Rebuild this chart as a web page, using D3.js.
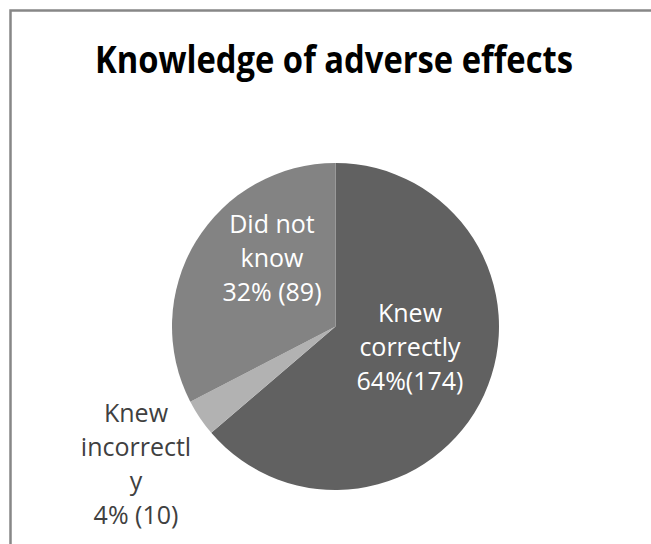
<!DOCTYPE html>
<html>
<head>
<meta charset="utf-8">
<script src="https://cdn.jsdelivr.net/npm/d3@7"></script>
<style>
  html, body { margin: 0; padding: 0; background: #fff; overflow: hidden; }
  svg { display: block; }
</style>
</head>
<body>
<svg id="chart" width="651" height="544"></svg>
<script>
// ---- data ----
const title = "Knowledge of adverse effects";
const categories = ["Knew correctly", "Knew incorrectly", "Did not know"];
const counts = [174, 10, 89];
const labelLines = [
  ["Knew", "correctly", "64%(174)"],
  ["Knew", "incorrectl", "y", "4% (10)"],
  ["Did not", "know", "32% (89)"]
];
const sliceColors = ["#616161", "#b2b2b2", "#838383"];
const labelColors = ["#ffffff", "#404040", "#ffffff"];
// label block centre offsets relative to pie centre
const labelOffsets = [[74.5, 21.5], [-199.5, 138.5], [-63.5, -67.5]];

// ---- layout ----
const W = 651, H = 544;
const cx = 335.5, cy = 326.5, R = 163.5;
const lineH = 34.3;

const svg = d3.select("#chart");

svg.append("rect")
  .attr("x", 10.5).attr("y", 10.5)
  .attr("width", 800).attr("height", 800)
  .attr("fill", "#fff")
  .attr("stroke", "#878787")
  .attr("stroke-width", 2.5);

svg.append("text")
  .attr("x", 334).attr("y", 73)
  .attr("text-anchor", "middle")
  .attr("font-family", "'Open Sans', sans-serif")
  .attr("font-weight", "bold")
  .attr("font-size", 38)
  .attr("textLength", 478)
  .attr("lengthAdjust", "spacingAndGlyphs")
  .attr("fill", "#000")
  .text(title);

const pie = d3.pie().sort(null).value(d => d);
const arcs = pie(counts);
const arc = d3.arc().innerRadius(0).outerRadius(R);

const g = svg.append("g").attr("transform", `translate(${cx},${cy})`);

g.selectAll("path.slice")
  .data(arcs)
  .join("path")
  .attr("class", "slice")
  .attr("d", arc)
  .attr("fill", (d, i) => sliceColors[i]);

arcs.forEach((a, i) => {
  const lines = labelLines[i];
  const [ox, oy] = labelOffsets[i];
  const n = lines.length;
  const t = g.append("text")
    .attr("text-anchor", "middle")
    .attr("font-family", "'Open Sans', sans-serif")
    .attr("font-size", 25)
    .attr("fill", labelColors[i]);
  lines.forEach((ln, j) => {
    t.append("tspan")
      .attr("x", ox)
      .attr("y", oy + (j - (n - 1) / 2) * lineH + 8)
      .text(ln);
  });
});
</script>
</body>
</html>
